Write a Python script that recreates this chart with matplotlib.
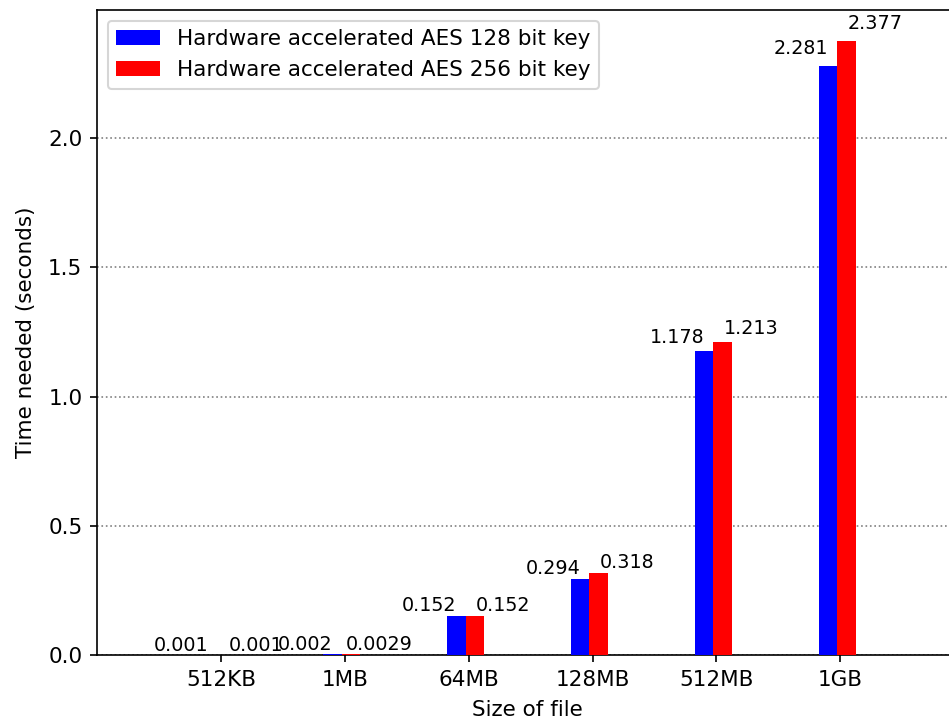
import numpy as np
import matplotlib
matplotlib.use("Agg")
import matplotlib.pyplot as plt

# File sizes and measured encryption times (seconds)
sizes = ["512KB", "1MB", "64MB", "128MB", "512MB", "1GB"]
aes128_times = [0.001, 0.002, 0.152, 0.294, 1.178, 2.281]
aes256_times = [0.001, 0.0029, 0.152, 0.318, 1.213, 2.377]
series_labels = ["Hardware accelerated AES 128 bit key",
                 "Hardware accelerated AES 256 bit key"]

plt.rcParams["font.size"] = 10.35

W, H, DPI = 949, 721, 150
fig = plt.figure(figsize=(W / DPI, H / DPI), dpi=DPI)
ax = fig.add_axes([97 / W, (H - 655) / H, (958 - 97) / W, (655 - 10) / H])

x = np.arange(len(sizes))
width = 0.15

ax.bar(x - 0.1, aes128_times, width, color="blue", label=series_labels[0], zorder=3)
ax.bar(x + 0.05, aes256_times, width, color="red", label=series_labels[1], zorder=3)

for xi, v in zip(x, aes128_times):
    ax.text(xi - 0.32, v * 1.012, str(v), ha="center", va="bottom", fontsize=9.2)
for xi, v in zip(x, aes256_times):
    ax.text(xi + 0.28, v * 1.012, str(v), ha="center", va="bottom", fontsize=9.2)

ax.set_xticks(x)
ax.set_xticklabels(sizes)
ax.set_xlim(-1, 5.95)
ax.set_xlabel("Size of file", labelpad=5)
ax.set_ylabel("Time needed (seconds)", labelpad=6)
ax.yaxis.grid(True, linestyle=":", color="gray", zorder=0)
ax.set_axisbelow(True)
ax.legend(loc="upper left")

fig.savefig("out.png", dpi=DPI)
